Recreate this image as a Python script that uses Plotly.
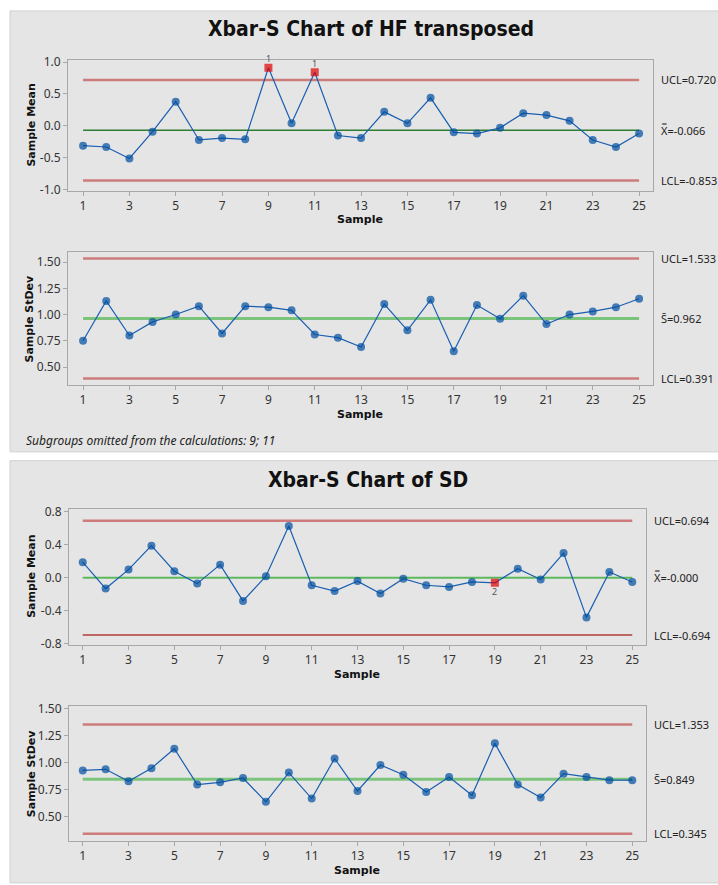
import plotly.graph_objects as go

samples = list(range(1, 26))

# Chart 1: Xbar of HF transposed
hf_mean = [-0.31, -0.33, -0.51, -0.09, 0.38, -0.22, -0.19, -0.21, 0.91, 0.04,
           0.84, -0.15, -0.19, 0.22, 0.04, 0.44, -0.10, -0.12, -0.03, 0.20,
           0.17, 0.08, -0.22, -0.33, -0.12]
hf_mean_limits = [0.720, -0.066, -0.853]   # UCL, CL, LCL
hf_mean_flags = {9: "1", 11: "1"}

# Chart 2: S of HF transposed
hf_sd = [0.75, 1.13, 0.80, 0.93, 1.00, 1.08, 0.82, 1.08, 1.07, 1.04,
         0.81, 0.78, 0.69, 1.10, 0.85, 1.14, 0.65, 1.09, 0.96, 1.18,
         0.91, 1.00, 1.03, 1.07, 1.15]
hf_sd_limits = [1.533, 0.962, 0.391]

# Chart 3: Xbar of SD
sd_mean = [0.19, -0.13, 0.10, 0.39, 0.08, -0.07, 0.16, -0.28, 0.02, 0.63,
           -0.09, -0.16, -0.04, -0.19, -0.01, -0.09, -0.11, -0.05, -0.06, 0.11,
           -0.02, 0.30, -0.48, 0.07, -0.05]
sd_mean_limits = [0.694, -0.000, -0.694]
sd_mean_flags = {19: "2"}

# Chart 4: S of SD
sd_sd = [0.93, 0.94, 0.83, 0.95, 1.13, 0.80, 0.82, 0.86, 0.64, 0.91,
         0.67, 1.04, 0.74, 0.98, 0.89, 0.73, 0.87, 0.70, 1.18, 0.80,
         0.68, 0.90, 0.87, 0.84, 0.84]
sd_sd_limits = [1.353, 0.849, 0.345]

x_ticks = list(range(1, 26, 2))

W, H = 718, 885
def px(x):
    return x / W
def py(y):
    return 1 - y / H

TICKFONT = dict(family="Noto Sans, Open Sans, sans-serif", size=12, color="#333333")
LABFONT = dict(family="Noto Sans, Open Sans, sans-serif", size=11, color="#222222")
BOLD = dict(family="DejaVu Sans, Verdana, sans-serif", size=11, color="#111111")
TITLEFONT = dict(family="Liberation Sans Narrow, DejaVu Sans Condensed, Arial Narrow, sans-serif",
                 size=21, color="#111111")

BLUE = "#004f9f"
RED_LIM = "#cd7b7b"
FRAME = "#a8a8a8"

fig = go.Figure()

charts = [
    dict(y=hf_mean, lim=hf_mean_limits, flags=hf_mean_flags, xa="x", ya="y",
         cc="#2f7d32", cw=1.5, lc=RED_LIM, lw=2.5, flagpos="top", kind="X",
         xdom=[px(68), px(653)], ydom=[py(187), py(54)], yr=[-1.02, 1.03],
         yt=[-1.0, -0.5, 0.0, 0.5, 1.0], ytxt=["-1.0", "-0.5", "0.0", "0.5", "1.0"],
         xr=[0.35, 25.6], labx=659),
    dict(y=hf_sd, lim=hf_sd_limits, flags={}, xa="x2", ya="y2",
         cc="#7cc47c", cw=3, lc=RED_LIM, lw=2.5, flagpos="top", kind="S",
         xdom=[px(68), px(653)], ydom=[py(384), py(249)], yr=[0.33, 1.595],
         yt=[0.5, 0.75, 1.0, 1.25, 1.5], ytxt=["0.50", "0.75", "1.00", "1.25", "1.50"],
         xr=[0.35, 25.6], labx=659),
    dict(y=sd_mean, lim=sd_mean_limits, flags=sd_mean_flags, xa="x3", ya="y3",
         cc="#5cb85c", cw=2, lc="#b03a3a", lw=1.5, flagpos="bottom", kind="X",
         xdom=[px(69), px(646)], ydom=[py(648), py(510)], yr=[-0.812, 0.836],
         yt=[-0.8, -0.4, 0.0, 0.4, 0.8], ytxt=["-0.8", "-0.4", "0.0", "0.4", "0.8"],
         xr=[0.4, 25.6], labx=652),
    dict(y=sd_sd, lim=sd_sd_limits, flags={}, xa="x4", ya="y4",
         cc="#7cc47c", cw=3, lc=RED_LIM, lw=2.5, flagpos="top", kind="S",
         xdom=[px(69), px(646)], ydom=[py(847), py(710)], yr=[0.282, 1.527],
         yt=[0.5, 0.75, 1.0, 1.25, 1.5], ytxt=["0.50", "0.75", "1.00", "1.25", "1.50"],
         xr=[0.4, 25.6], labx=652),
]

shapes = [
    dict(type="rect", xref="paper", yref="paper", x0=px(10), x1=px(722), y0=py(452), y1=py(4),
         fillcolor="#e5e5e5", line=dict(color="#d0d0d0", width=1), layer="below"),
    dict(type="rect", xref="paper", yref="paper", x0=px(10), x1=px(722), y0=py(890), y1=py(461),
         fillcolor="#e5e5e5", line=dict(color="#d0d0d0", width=1), layer="below"),
]

annotations = []
layout_axes = {}

ylabels = ["Sample Mean", "Sample StDev", "Sample Mean", "Sample StDev"]
ylab_x = [32, 29, 32, 31]

for i, c in enumerate(charts):
    ucl, cl, lcl = c["lim"]
    xa, ya = c["xa"], c["ya"]
    fig.add_trace(go.Scatter(x=[samples[0], samples[-1]], y=[ucl, ucl], mode="lines",
                             line=dict(color=RED_LIM, width=2.5), xaxis=xa, yaxis=ya,
                             hoverinfo="skip", showlegend=False))
    fig.add_trace(go.Scatter(x=[samples[0], samples[-1]], y=[lcl, lcl], mode="lines",
                             line=dict(color=c["lc"], width=c["lw"]), xaxis=xa, yaxis=ya,
                             hoverinfo="skip", showlegend=False))
    fig.add_trace(go.Scatter(x=[samples[0], samples[-1]], y=[cl, cl], mode="lines",
                             line=dict(color=c["cc"], width=c["cw"]), xaxis=xa, yaxis=ya,
                             hoverinfo="skip", showlegend=False))
    colors = ["#e00000" if s in c["flags"] else BLUE for s in samples]
    symbols = ["square" if s in c["flags"] else "circle" for s in samples]
    sizes = [8 if s in c["flags"] else 8 for s in samples]
    fig.add_trace(go.Scatter(x=samples, y=c["y"], mode="lines+markers",
                             line=dict(color="#1a5fb0", width=1.2),
                             marker=dict(color=colors, symbol=symbols, size=sizes,
                                         line=dict(width=0)),
                             xaxis=xa, yaxis=ya, showlegend=False))
    for s, t in c["flags"].items():
        annotations.append(dict(x=s, y=c["y"][s - 1], xref=xa, yref=ya, text=t,
                                xanchor="center", yanchor="middle",
                                showarrow=False, font=dict(family="Noto Sans", size=9, color="#555555"),
                                yshift=9 if c["flagpos"] == "top" else -9))
    suffix = "" if i == 0 else str(i + 1)
    layout_axes["xaxis" + suffix] = dict(
        domain=c["xdom"], range=c["xr"], anchor=ya, tickvals=x_ticks,
        ticks="outside", ticklen=4, tickcolor=FRAME, showline=True, linecolor=FRAME,
        mirror=True, showgrid=False, zeroline=False, tickfont=TICKFONT)
    layout_axes["yaxis" + suffix] = dict(
        domain=c["ydom"], range=c["yr"], anchor=xa, tickvals=c["yt"], ticktext=c["ytxt"],
        ticks="outside", ticklen=4, tickcolor=FRAME, showline=True, linecolor=FRAME,
        mirror=True, showgrid=False, zeroline=False, tickfont=TICKFONT)
    lx = px(c["labx"])
    annotations.append(dict(x=lx, y=ucl, xref="paper", yref=ya, text=f"UCL={ucl:.3f}",
                            xanchor="left", yanchor="middle", showarrow=False, font=LABFONT))
    annotations.append(dict(x=lx, y=lcl, xref="paper", yref=ya, text=f"LCL={lcl:.3f}",
                            xanchor="left", yanchor="middle", showarrow=False, font=LABFONT))
    if c["kind"] == "X":
        annotations.append(dict(x=lx, y=cl, xref="paper", yref=ya,
                                text="X\u033F=" + ("-0.000" if cl == 0 else f"{cl:.3f}"),
                                xanchor="left", yanchor="middle", showarrow=False, font=LABFONT))
    else:
        annotations.append(dict(x=lx, y=cl, xref="paper", yref=ya, text=f"S\u0304={cl:.3f}",
                                xanchor="left", yanchor="middle", showarrow=False, font=LABFONT))
    ymid = (c["ydom"][0] + c["ydom"][1]) / 2
    annotations.append(dict(x=px(ylab_x[i]), y=ymid, xref="paper", yref="paper",
                            xanchor="center", yanchor="middle",
                            text="<b>" + ylabels[i] + "</b>", textangle=-90, showarrow=False, font=BOLD))

for xc, yc in [(360, 216), (360, 414), (357, 678), (357, 877)]:
    annotations.append(dict(x=px(xc), y=py(yc), xref="paper", yref="paper", text="<b>Sample</b>",
                            xanchor="center", yanchor="middle", showarrow=False, font=BOLD))

annotations.append(dict(x=px(371), y=py(22), xref="paper", yref="paper",
                        xanchor="center", yanchor="middle",
                        text="<b>Xbar-S Chart of HF transposed</b>", showarrow=False, font=TITLEFONT))
annotations.append(dict(x=px(368), y=py(481), xref="paper", yref="paper",
                        xanchor="center", yanchor="middle",
                        text="<b>Xbar-S Chart of SD</b>", showarrow=False, font=TITLEFONT))

annotations.append(dict(x=px(24), y=py(440), xref="paper", yref="paper",
                        xanchor="left", yanchor="middle",
                        text="<i>Subgroups omitted from the calculations: 9; 11</i>",
                        showarrow=False, font=dict(family="Noto Sans, Open Sans, sans-serif",
                                                   size=12, color="#222222")))

fig.update_layout(width=W, height=H, margin=dict(l=0, r=0, t=0, b=0),
                  paper_bgcolor="white", plot_bgcolor="white",
                  shapes=shapes, annotations=annotations, showlegend=False,
                  **layout_axes)

fig.write_html("out.html", config={"displayModeBar": False},
               post_script="document.body.style.margin='0';document.body.style.overflow='hidden';")
